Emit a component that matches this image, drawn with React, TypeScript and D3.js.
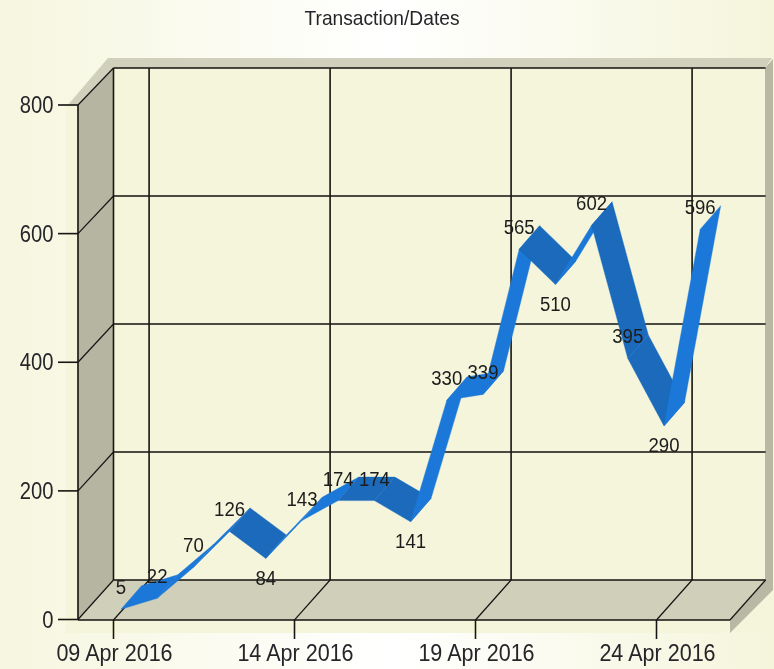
import React from "react";
import * as d3 from "d3";

const title = "Transaction/Dates";
const dayOffsets = [0, 1, 2, 3, 4, 5, 6, 7, 8, 9, 10, 11, 12, 13, 14, 15, 16];
const values = [5, 22, 70, 126, 84, 143, 174, 174, 141, 330, 339, 565, 510, 602, 395, 290, 596];
const yTicks = [0, 200, 400, 600, 800];
const xTickDays = [0, 5, 10, 15];
const xTickLabels = ["09 Apr 2016", "14 Apr 2016", "19 Apr 2016", "24 Apr 2016"];

const W = 774;
const H = 669;
const x = d3.scaleLinear().domain([0, 1]).range([113.5, 149.7]);
const y = d3.scaleLinear().domain([0, 800]).range([619.5, 105]);
const DX = 35.6;
const DY = -39.5;
const RIGHT = 730;
const FRONT: [number, number] = [7.5, -7];
const BACK: [number, number] = [28, -30.5];

const project = (d: number, v: number, o: [number, number]): [number, number] => [x(d) + o[0], y(v) + o[1]];
const line = d3.line();

const LINE = "#151512";
const LIGHT = "#1b78d8";
const DARK = "#1a6abb";

function Label({ px, py, size, sx = 1, sy = 1, anchor = "middle", fill = "#1c1c1c", children }: any) {
  return (
    <text
      transform={`translate(${px},${py}) scale(${sx},${sy})`}
      fontFamily="'Liberation Sans', Arial, sans-serif"
      fontSize={size}
      textAnchor={anchor}
      fill={fill}
    >
      {children}
    </text>
  );
}

export default function App() {
  const x0 = x(0);
  const yb = y(0);
  const backL = x0;
  const backR = RIGHT + DX;
  const backB = yb + DY;
  const frontL = 78;

  const isLocalMin = (i: number) =>
    i > 0 && i < values.length - 1 && values[i] < values[i - 1] && values[i] < values[i + 1];

  return (
    <svg
      width={W}
      height={H}
      viewBox={`0 0 ${W} ${H}`}
      style={{ position: "fixed", left: 0, top: 0, display: "block" }}
    >
      <defs>
        <linearGradient id="bg" x1="0" x2="1" y1="0" y2="0">
          <stop offset="0" stopColor="#f6f6df" />
          <stop offset="0.5" stopColor="#ffffff" />
          <stop offset="1" stopColor="#f5f5dc" />
        </linearGradient>
        <filter id="soft" x="0" y="0" width="1" height="1">
          <feGaussianBlur stdDeviation="0.4" />
        </filter>
      </defs>
      <rect width={W} height={H} fill="url(#bg)" />
      <path d="M66,105L108,58L774,58L774,633L66,633Z" fill="#f5f5dc" />

      <g filter="url(#soft)">
        {/* 3D frame */}
        <path d={line([[68, 105], [108, 58], [772, 58], [765, 68], [backL, 68], [frontL, 105]])!} fill="#d0d0bc" />
        <path d={line([[765, 68], [773, 59], [773, 590], [730, 633], [730, 620], [765, 580]])!} fill="#b8b8a5" />
        <path d={line([[frontL, 105], [backL, 68], [backL, backB], [frontL, 620]])!} fill="#b5b5a2" />
        <path d={line([[frontL, 620], [backL, backB], [backR, backB], [RIGHT, 620]])!} fill="#cfcfba" />

        {/* back wall grid */}
        {yTicks.map((t) => (
          <g key={t}>
            <line x1={backL} x2={backR} y1={y(t) + DY + (t / 800) * 2.5} y2={y(t) + DY + (t / 800) * 2.5} stroke={LINE} strokeWidth={1.6} />
            <line x1={frontL} x2={backL} y1={y(t)} y2={y(t) + DY + (t / 800) * 2.5} stroke={LINE} strokeWidth={1.2} />
            <line x1={58} x2={frontL} y1={y(t)} y2={y(t)} stroke={LINE} strokeWidth={1.6} />
            <Label px={53.5} py={y(t) + 8} size={22} sx={0.92} sy={1.05} anchor="end" fill="#26262a">
              {t}
            </Label>
          </g>
        ))}
        <line x1={frontL} x2={frontL} y1={105} y2={620} stroke={LINE} strokeWidth={1.6} />
        <line x1={backL} x2={backL} y1={68} y2={backB} stroke={LINE} strokeWidth={1.6} />
        <line x1={frontL} x2={RIGHT} y1={620} y2={620} stroke={LINE} strokeWidth={1.6} />
        <line x1={RIGHT} x2={backR} y1={620} y2={backB} stroke={LINE} strokeWidth={1.2} />

        {xTickDays.map((d, i) => (
          <g key={d}>
            <line x1={x(d) + DX} x2={x(d) + DX} y1={68} y2={backB} stroke={LINE} strokeWidth={1.6} />
            <line x1={x(d)} x2={x(d) + DX} y1={620} y2={backB} stroke={LINE} strokeWidth={1.2} />
            <line x1={x(d)} x2={x(d)} y1={620} y2={639} stroke={LINE} strokeWidth={1.6} />
            <Label px={x(d) + 1} py={661} size={22} sx={0.98} sy={1.05} fill="#26262a">
              {xTickLabels[i]}
            </Label>
          </g>
        ))}

        {/* ribbon */}
        {values.slice(1).map((v, i) => {
          const a = values[i];
          const d0 = dayOffsets[i];
          const d1 = dayOffsets[i + 1];
          return (
            <path
              key={d1}
              d={line([
                project(d0, a, FRONT),
                project(d0, a, BACK),
                project(d1, v, BACK),
                project(d1, v, FRONT),
              ])! + "Z"}
              fill={v > a ? LIGHT : DARK}
              stroke={v > a ? LIGHT : DARK}
              strokeWidth={0.4}
            />
          );
        })}

        {/* value labels */}
        {values.map((v, i) => (
          <Label
            key={i}
            px={x(dayOffsets[i]) + 7.5}
            py={y(v) + (isLocalMin(i) ? 19.5 : -22)}
            size={20}
            sx={0.93}
            sy={1.05}
          >
            {v}
          </Label>
        ))}

        <Label px={382} py={25} size={19.2} sy={1.05} fill="#26262a">
          {title}
        </Label>
      </g>
    </svg>
  );
}
